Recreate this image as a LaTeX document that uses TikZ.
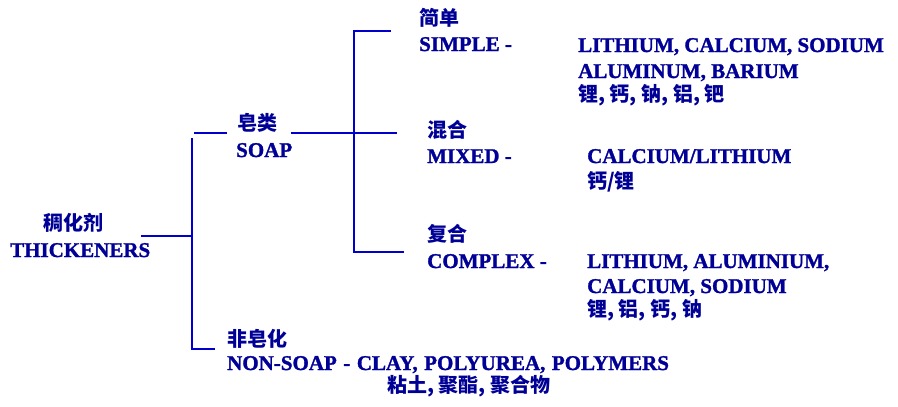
\documentclass[tikz,border=0pt]{standalone}
\usepackage{fontspec}
\setmainfont{Liberation Serif}[BoldFont={Liberation Serif Bold}, BoldFeatures={FakeBold=1.4}]
\newfontfamily\cjk{Noto Sans CJK SC}
\usepackage{tikz}
\usetikzlibrary{positioning}

\definecolor{inkblue}{RGB}{0,0,150}
\definecolor{lineblue}{RGB}{0,0,205}

\tikzset{
  en/.style={anchor=base west, inner sep=0pt, text=inkblue, font=\fontsize{21}{25}\selectfont\bfseries},
  zh/.style={anchor=base west, inner sep=0pt, text=inkblue, font=\fontsize{20}{24}\selectfont\cjk\bfseries},
  link/.style={draw=lineblue, line width=1.2pt},
}

\begin{document}
\begin{tikzpicture}[x=1pt, y=-1pt]
  \useasboundingbox (0,0) rectangle (898,407);
  % root
  \node[zh] (thk-zh) at (43,230.5) {稠化剂};
  \node[en] (thk)    at (10,257)   {THICKENERS};
  % soap
  \node[zh] (soap-zh) at (237,130.5) {皂类};
  \node[en] (soap)    at (236,157)   {SOAP};
  % simple
  \node[zh] (simple-zh) at (419,25.5) {简单};
  \node[en] (simple)    at (419,51)   {SIMPLE -};
  \node[en] (simple-1)  at (578,52)   {LITHIUM, CALCIUM, SODIUM};
  \node[en] (simple-2)  at (578,78)   {ALUMINUM, BARIUM};
  \node[zh] (simple-3)  at (578,101.5) {锂, 钙, 钠, 铝, 钯};
  % mixed
  \node[zh] (mixed-zh) at (427,137.5) {混合};
  \node[en] (mixed)    at (427,163)   {MIXED -};
  \node[en] (mixed-1)  at (587,163)   {CALCIUM/LITHIUM};
  \node[zh] (mixed-2)  at (587,188.5) {钙/锂};
  % complex
  \node[zh] (complex-zh) at (427,241.5) {复合};
  \node[en] (complex)    at (427,268)   {COMPLEX -};
  \node[en] (complex-1)  at (587,268)   {LITHIUM, ALUMINIUM,};
  \node[en] (complex-2)  at (587,293)   {CALCIUM, SODIUM};
  \node[zh] (complex-3)  at (587,316) {锂, 铝, 钙, 钠};
  % non-soap
  \node[zh] (nonsoap-zh) at (227,346.5) {非皂化};
  \node[en] (nonsoap)    at (227,370)   {\spaceskip=6.5pt NON-SOAP - CLAY, POLYUREA, POLYMERS};
  \node[zh] (nonsoap-1)  at (387,392) {粘土, 聚酯, 聚合物};

  % tree lines
  \coordinate (thk-e)    at (141,236);
  \coordinate (trunk-m)  at (192,236);
  \coordinate (trunk-t)  at (192,138);
  \coordinate (trunk-b)  at (192,349);
  \coordinate (soap-w)   at (194,133);
  \coordinate (soap-w2)  at (227,133);
  \coordinate (soap-e)   at (291,133);
  \coordinate (mixed-w)  at (397,133);
  \coordinate (br-t)     at (354,31);
  \coordinate (br-b)     at (354,252);
  \coordinate (simple-w) at (391,31);
  \coordinate (complex-w) at (404,252);
  \coordinate (nonsoap-w) at (215,349);

  \draw[link] (thk-e) -- (trunk-m);
  \draw[link] (trunk-t) -- (trunk-b) -- (nonsoap-w);
  \draw[link] (soap-w) -- (soap-w2);
  \draw[link] (soap-e) -- (mixed-w);
  \draw[link] (simple-w) -- (br-t) -- (br-b) -- (complex-w);
\end{tikzpicture}
\end{document}
